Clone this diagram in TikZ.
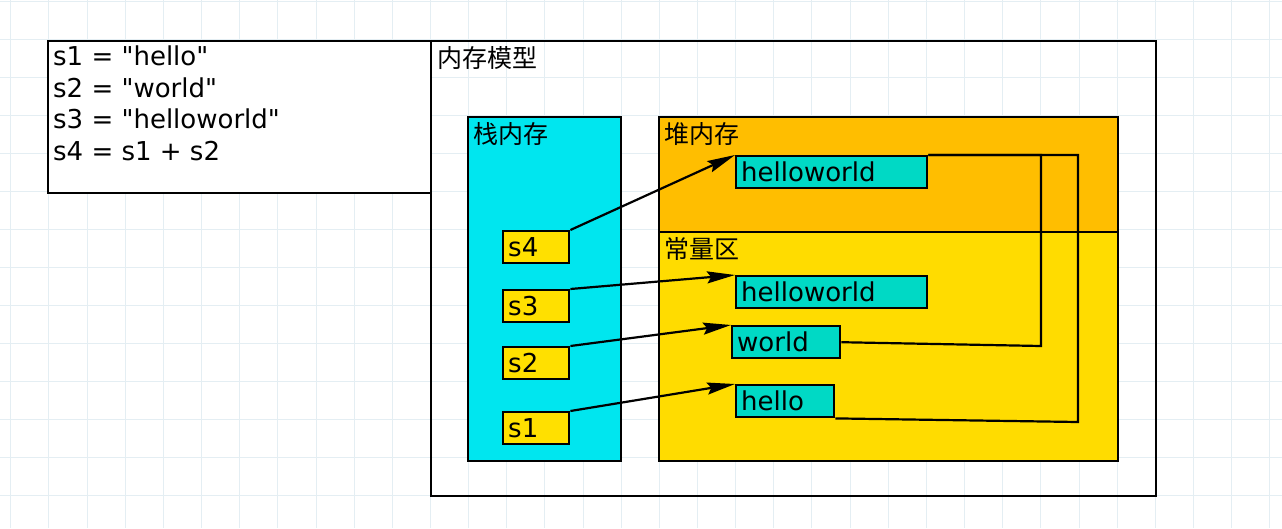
\documentclass[tikz,border=0pt]{standalone}
\usepackage{fontspec}
\setmainfont{DejaVu Sans}
\newfontfamily\plainfont{DejaVu Sans}
\newfontfamily\cjk{Noto Sans CJK SC}
\usetikzlibrary{arrows.meta}
\definecolor{gridc}{HTML}{E4EEF3}
\definecolor{stackc}{HTML}{00E6EF}
\definecolor{heapc}{HTML}{FFBE00}
\definecolor{constc}{HTML}{FFDC00}
\definecolor{varc}{HTML}{FFE000}
\definecolor{strc}{HTML}{00D9C5}
\begin{document}
\begin{tikzpicture}[x=1pt,y=-1pt,
  region/.style={draw, line width=2.4pt, anchor=north west, inner sep=0pt},
  cell/.style={draw, line width=2.4pt, anchor=north west, minimum height=32pt,
    inner xsep=5pt, inner ysep=0pt, align=left, font=\plainfont\fontsize{26}{30}\selectfont},
  title/.style={anchor=north west, inner sep=0pt, font=\cjk\fontsize{25}{30}\selectfont},
  ptr/.style={line width=2.2pt, -{Stealth[length=28pt,width=12pt,inset=4pt]}},
  link/.style={line width=2.2pt},
  gridline/.style={gridc, line width=1pt}]
\useasboundingbox (0,0) rectangle (1282,528);
\fill[white] (0,0) rectangle (1282,528);
\foreach \i in {0,...,33} {\draw[gridline] ({10.8+38.15*\i},0) -- ({10.8+38.15*\i},528);}
\foreach \j in {0,...,13} {\draw[gridline] (0,{1+38*\j}) -- (1282,{1+38*\j});}

% code box
\node[region, fill=white, minimum width=383pt, minimum height=152pt] (code) at (47,40) {};
\node[anchor=north west, inner sep=0pt, align=left, font=\plainfont\fontsize{26}{31.5}\selectfont] (codetext) at (53,46)
  {s1 = "hello"\\ s2 = "world"\\ s3 = "helloworld"\\ s4 = s1 + s2};

% memory model
\node[region, minimum width=725pt, minimum height=455pt] (mem) at (430,40) {};
\node[title] (memt) at (437,46) {内存模型};

\node[region, fill=stackc, minimum width=153pt, minimum height=344pt] (stack) at (467,116) {};
\node[title] (stackt) at (473,122) {栈内存};

\node[region, fill=heapc, minimum width=459pt, minimum height=115pt] (heap) at (658,116) {};
\node[title] (heapt) at (664,122) {堆内存};

\node[region, fill=constc, minimum width=459pt, minimum height=229pt] (const) at (658,231) {};
\node[title] (constt) at (664,237) {常量区};

% variables
\node[cell, fill=varc, text width=56pt] (s4) at (502,230) {s4};
\node[cell, fill=varc, text width=56pt] (s3) at (502,289) {s3};
\node[cell, fill=varc, text width=56pt] (s2) at (502,346) {s2};
\node[cell, fill=varc, text width=56pt] (s1) at (502,411) {s1};

% strings
\node[cell, fill=strc, text width=181pt] (hwh) at (735,155) {helloworld};
\node[cell, fill=strc, text width=181pt] (hwc) at (735,275) {helloworld};
\node[cell, fill=strc, text width=98pt] (world) at (731,325) {world};
\node[cell, fill=strc, text width=88pt] (hello) at (735,384) {hello};

% connectors
\coordinate (wc) at (1041,346);
\coordinate (hc) at (1078,422);
\draw[link] (world.east) -- (wc) |- (hwh.north east);
\draw[link] (hello.south east) -- (hc) |- (hwh.north east);

\draw[ptr] (s4.north east) -- (hwh.north west);
\draw[ptr] (s3.north east) -- (hwc.north west);
\draw[ptr] (s2.north east) -- (world.north west);
\draw[ptr] (s1.north east) -- (hello.north west);
\end{tikzpicture}
\end{document}
